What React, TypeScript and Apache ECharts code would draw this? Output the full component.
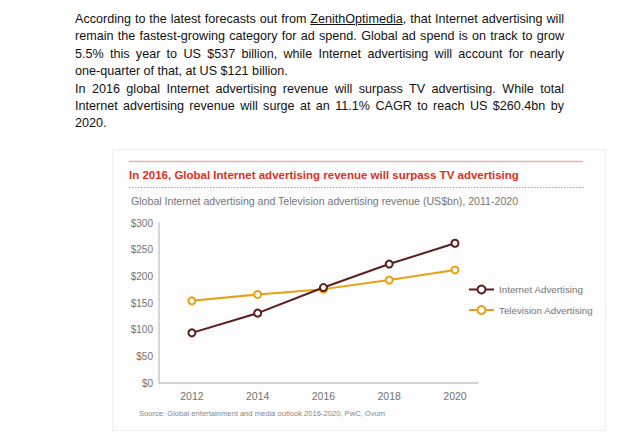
import React, { useEffect, useRef } from "react";
import * as echarts from "echarts";

const years = [2012, 2014, 2016, 2018, 2020];
const internetValues = [94, 131, 179, 223, 262];
const tvValues = [154, 166, 176, 193, 212];
const yTicks = [0, 50, 100, 150, 200, 250, 300];

const chartTitle = "In 2016, Global Internet advertising revenue will surpass TV advertising";
const chartSubtitle = "Global Internet advertising and Television advertising revenue (US$bn), 2011-2020";
const sourceText = "Source: Global entertainment and media outlook 2016-2020, PwC, Ovum";

const FONT = "'Liberation Sans', Arial, Helvetica, sans-serif";

const introLines: { pre: string; link?: string; post?: string; full: boolean }[] = [
  { pre: "According to the latest forecasts out from ", link: "ZenithOptimedia", post: ", that Internet advertising will", full: true },
  { pre: "remain the fastest-growing category for ad spend. Global ad spend is on track to grow", full: true },
  { pre: "5.5% this year to US $537 billion, while Internet advertising will account for nearly", full: true },
  { pre: "one-quarter of that, at US $121 billion.", full: false },
  { pre: "In 2016 global Internet advertising revenue will surpass TV advertising. While total", full: true },
  { pre: "Internet advertising revenue will surge at an 11.1% CAGR to reach US $260.4bn by", full: true },
  { pre: "2020.", full: false },
];

export default function App() {
  const ref = useRef<HTMLDivElement>(null);
  useEffect(() => {
    if (!ref.current) return;
    const chart = echarts.init(ref.current, undefined, { renderer: "svg" });
    const W = 492;
    chart.setOption({
      animation: false,
      backgroundColor: "#fdfdfd",
      textStyle: { fontFamily: FONT },
      graphic: [
        { type: "line", shape: { x1: 16, y1: 11.5, x2: 470, y2: 11.5 }, style: { stroke: "#e9b3aa", lineWidth: 1.3 } },
        { type: "text", left: 16, top: 18.5, style: { text: chartTitle, fill: "#e0301e", font: `bold 11.5px ${FONT}` } },
        { type: "line", shape: { x1: 16, y1: 37.5, x2: 472, y2: 37.5 }, style: { stroke: "#e88a80", lineWidth: 1.2, lineDash: [1.5, 1.5] } },
        { type: "text", left: 18, top: 45.5, style: { text: chartSubtitle, fill: "#777777", font: `10.6px ${FONT}` } },
        { type: "text", left: 26, top: 259.5, style: { text: sourceText, fill: "#888888", font: `7.6px ${FONT}` } },
      ],
      grid: { left: 46, top: 73, right: W - 365, bottom: 47, containLabel: false },
      legend: {
        orient: "vertical",
        left: 350,
        top: 129.5,
        itemWidth: 25,
        itemHeight: 10,
        itemGap: 10.5,
        textStyle: { color: "#777777", fontSize: 9.8, fontFamily: FONT },
        data: ["Internet Advertising", "Television Advertising"],
      },
      xAxis: {
        type: "value",
        min: 2011,
        max: 2020.7,
        interval: 1,
        axisLine: { show: true, lineStyle: { color: "#c8c8c8", width: 1.5 } },
        axisTick: { show: false },
        splitLine: { show: false },
        axisLabel: {
          color: "#737373",
          fontSize: 10.5,
          margin: 7,
          showMaxLabel: false,
          formatter: (v: number) => (years.includes(v) ? String(v) : ""),
        },
      },
      yAxis: {
        type: "value",
        min: 0,
        max: 300,
        interval: 50,
        axisLine: { show: true, lineStyle: { color: "#c8c8c8", width: 1.5 } },
        axisTick: { show: false },
        splitLine: { show: false },
        axisLabel: {
          color: "#737373",
          fontSize: 10,
          margin: 6,
          formatter: (v: number) => (yTicks.includes(v) ? "$" + v : ""),
        },
      },
      series: [
        {
          name: "Internet Advertising",
          type: "line",
          data: years.map((y, i) => [y, internetValues[i]]),
          color: "#5a1f1f",
          lineStyle: { width: 2 },
          symbol: "emptyCircle",
          symbolSize: 7,
          itemStyle: { borderWidth: 1.6, color: "#5a1f1f" },
          z: 3,
        },
        {
          name: "Television Advertising",
          type: "line",
          data: years.map((y, i) => [y, tvValues[i]]),
          color: "#eb9f12",
          lineStyle: { width: 2 },
          symbol: "emptyCircle",
          symbolSize: 7,
          itemStyle: { borderWidth: 1.6, color: "#eb9f12" },
          z: 2,
        },
      ],
    });
    return () => chart.dispose();
  }, []);

  return (
    <div style={{ position: "absolute", left: 0, top: 0, width: 640, height: 437, background: "#fff" }}>
      <div
        style={{
          position: "absolute",
          left: 75,
          top: 11,
          width: 489,
          fontFamily: FONT,
          fontSize: 12.6,
          lineHeight: "17.4px",
          color: "#111",
        }}
      >
        {introLines.map((l, i) => (
          <div
            key={i}
            style={{
              whiteSpace: "nowrap",
              textAlign: l.full ? "justify" : "left",
              textAlignLast: l.full ? "justify" : "left",
            }}
          >
            {l.pre}
            {l.link ? <span style={{ textDecoration: "underline" }}>{l.link}</span> : null}
            {l.post || null}
          </div>
        ))}
      </div>
      <div
        style={{
          position: "absolute",
          left: 112,
          top: 149,
          width: 492,
          height: 280,
          border: "1px solid #efefef",
        }}
      >
        <div ref={ref} style={{ width: 492, height: 280 }} />
      </div>
    </div>
  );
}
